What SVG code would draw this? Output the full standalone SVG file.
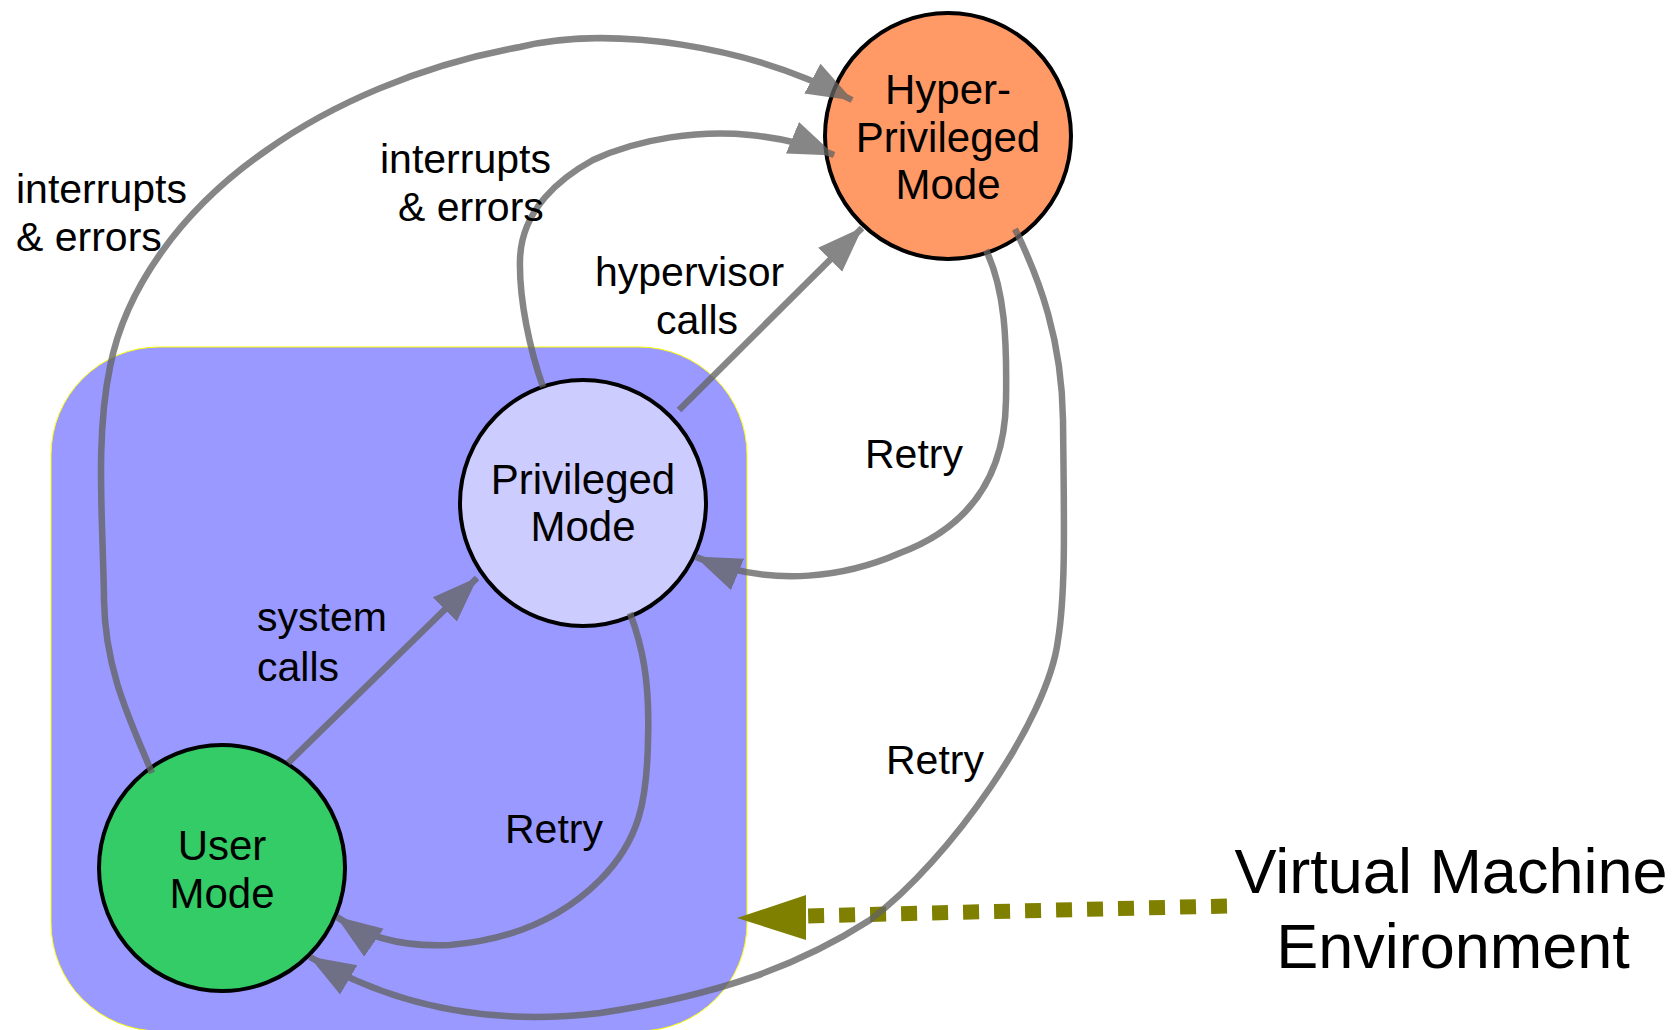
<svg xmlns="http://www.w3.org/2000/svg" width="1678" height="1030" viewBox="0 0 1678 1030">
<style>
.lbl{font-family:"Liberation Sans",Arial,sans-serif;font-size:41px;fill:#000}
.ntx{font-family:"Liberation Sans",Arial,sans-serif;font-size:42px;fill:#000;text-anchor:middle}
.big{font-family:"Liberation Sans",Arial,sans-serif;font-size:63px;fill:#000;text-anchor:middle}
.node{stroke:#000;stroke-width:4}
.edge{fill:none;stroke:#636363;stroke-width:6.5;marker-end:url(#ah)}
</style>
<defs>
<marker id="ah" markerUnits="userSpaceOnUse" markerWidth="48" markerHeight="36" refX="45" refY="17" orient="auto">
<path d="M0,0 L46,17 L0,34 z" fill="#636363"/>
</marker>
</defs>
<rect id="vm-env" x="51" y="347" width="696" height="684" rx="108" ry="108" fill="#9999ff" stroke="#ffff00" stroke-width="1"/>
<g id="vm-pointer">
<line x1="1227" y1="906" x2="804" y2="916" stroke="#808000" stroke-width="15" stroke-dasharray="16 15"/>
<polygon points="737,918 806,895 806,940" fill="#808000"/>
</g>
<g id="hyper">
<circle class="node" cx="948" cy="136" r="123" fill="#ff9966"/>
<text class="ntx" x="948" y="104">Hyper-</text>
<text class="ntx" x="948" y="152">Privileged</text>
<text class="ntx" x="948" y="199">Mode</text>
</g>
<g id="privileged">
<circle class="node" cx="583" cy="503" r="123" fill="#ccccff"/>
<text class="ntx" x="583" y="494">Privileged</text>
<text class="ntx" x="583" y="541">Mode</text>
</g>
<g id="user">
<circle class="node" cx="222" cy="868" r="123" fill="#33cc66"/>
<text class="ntx" x="222" y="860">User</text>
<text class="ntx" x="222" y="908">Mode</text>
</g>
<g id="connectors" opacity="0.77">
<path class="edge" d="M152,773 C130,720 105,670 104,600 C103,520 95,440 110,367 C125,290 180,210 267,150 C330,105 420,65 520,47 C610,25 750,45 852,100"/>
<path class="edge" d="M543,387 C530,350 519,300 520,260 C521,210 560,178 593,160 C640,138 700,130 750,135 C780,138 810,145 834,155"/>
<path class="edge" d="M679,410 L862,228"/>
<path class="edge" d="M288,763 L477,578"/>
<path class="edge" d="M986,250 C1005,290 1007,340 1006,400 C1005,470 975,525 900,553 C850,575 775,590 696,557"/>
<path class="edge" d="M630,613 C642,645 650,680 648,740 C647,800 640,840 600,880 C560,920 510,940 450,945 C410,947 370,940 337,917"/>
<path class="edge" d="M1015,229 C1040,280 1062,340 1063,420 C1064,520 1066,590 1058,640 C1048,720 950,860 870,920 C800,965 720,995 600,1013 C500,1025 400,1010 310,957"/>
</g>
<g id="labels">
<text class="lbl" x="16" y="203">interrupts</text>
<text class="lbl" x="16" y="251">&amp; errors</text>
<text class="lbl" x="380" y="173">interrupts</text>
<text class="lbl" x="398" y="221">&amp; errors</text>
<text class="lbl" x="595" y="286">hypervisor</text>
<text class="lbl" x="656" y="334">calls</text>
<text class="lbl" x="865" y="468">Retry</text>
<text class="lbl" x="257" y="631">system</text>
<text class="lbl" x="257" y="681">calls</text>
<text class="lbl" x="505" y="843">Retry</text>
<text class="lbl" x="886" y="774">Retry</text>
<text class="big" x="1451" y="893">Virtual Machine</text>
<text class="big" x="1453" y="968">Environment</text>
</g>
</svg>
